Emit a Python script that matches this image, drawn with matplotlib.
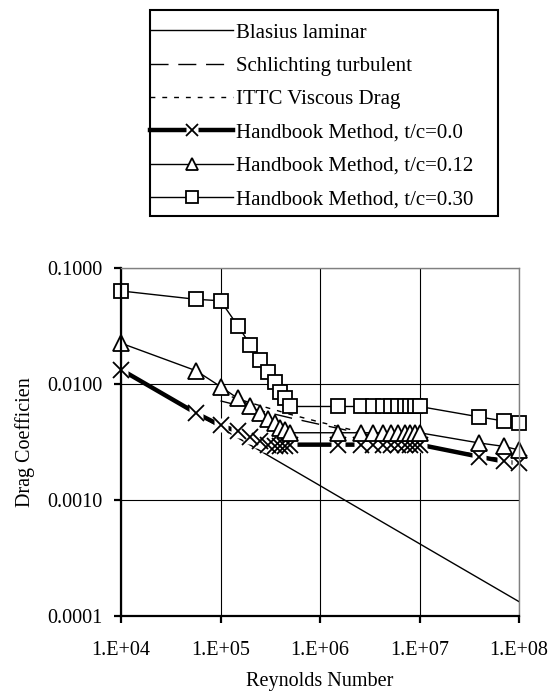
import matplotlib
matplotlib.use("Agg")
import matplotlib.pyplot as plt
from matplotlib.patches import Rectangle
from matplotlib.legend_handler import HandlerTuple
from matplotlib.ticker import NullLocator

plt.rcParams['font.family'] = ['Liberation Serif', 'DejaVu Serif']

# skin friction curves
re_blasius = [1e4, 2e4, 5e4, 1e5, 2e5, 5e5, 1e6, 2e6, 5e6, 1e7, 2e7, 5e7, 1e8]
cf_blasius = [0.01328, 0.00939, 0.00594, 0.00420, 0.00297, 0.00188, 0.00133,
              0.000939, 0.000594, 0.000420, 0.000297, 0.000188, 0.000133]

re_turb = [1e5, 2e5, 5e5, 1e6, 2e6, 5e6, 1e7, 2e7, 5e7, 1e8]
cf_schlichting = [0.00715, 0.00616, 0.00511, 0.00448, 0.00394, 0.00336,
                  0.00301, 0.00270, 0.00235, 0.00214]
cf_ittc = [0.00833, 0.00688, 0.00548, 0.00469, 0.00406, 0.00340,
           0.00300, 0.00262, 0.00231, 0.00208]

# handbook method, three thickness ratios
re_hb = [1e4, 5.7e4, 1e5, 1.5e5, 2e5, 2.5e5, 3e5, 3.5e5, 4e5, 4.5e5, 5e5,
         1.5e6, 2.6e6, 3.4e6, 4.3e6, 5.2e6, 6.1e6, 7.1e6, 8e6, 9e6, 1e7,
         4e7, 7e7, 1e8]
cf_tc00 = [0.0133, 0.0056, 0.0044, 0.0039, 0.0035, 0.0032, 0.0030, 0.0029,
           0.0029, 0.0029, 0.0030,
           0.0030, 0.0030, 0.0030, 0.0030, 0.0030, 0.0030, 0.0030, 0.0030,
           0.0030, 0.0030,
           0.00236, 0.00215, 0.00207]
cf_tc12 = [0.0225, 0.0130, 0.0095, 0.0075, 0.0065, 0.0056, 0.0050, 0.0046,
           0.0042, 0.0040, 0.0038,
           0.0038, 0.0038, 0.0038, 0.0038, 0.0038, 0.0038, 0.0038, 0.0038,
           0.0038, 0.0038,
           0.0031, 0.0029, 0.0027]
cf_tc30 = [0.0634, 0.0537, 0.0522, 0.0316, 0.0217, 0.0161, 0.0128, 0.0105,
           0.0086, 0.0076, 0.0064,
           0.0064, 0.0064, 0.0064, 0.0064, 0.0064, 0.0064, 0.0064, 0.0064,
           0.0064, 0.0064,
           0.0052, 0.0048, 0.0046]

x_ticks = [1e4, 1e5, 1e6, 1e7, 1e8]
x_labels = ['1.E+04', '1.E+05', '1.E+06', '1.E+07', '1.E+08']
y_ticks = [1e-4, 1e-3, 1e-2, 1e-1]
y_labels = ['0.0001', '0.0010', '0.0100', '0.1000']

labels = ['Blasius laminar', 'Schlichting turbulent', 'ITTC Viscous Drag',
          'Handbook Method, t/c=0.0', 'Handbook Method, t/c=0.12',
          'Handbook Method, t/c=0.30']

W, H = 559, 692
fig = plt.figure(figsize=(W / 100, H / 100), dpi=100)
ax = fig.add_axes([121 / W, 76 / H, 398 / W, 348 / H])

h1, = ax.plot(re_blasius, cf_blasius, '-', color='k', lw=1.0)
h2, = ax.plot(re_turb, cf_schlichting, color='k', lw=1.0, dashes=(13, 7))
h3, = ax.plot(re_turb, cf_ittc, color='k', lw=1.0, dashes=(3.5, 5))

# X markers sit on a white backing so the thick line breaks around them
h4a, = ax.plot(re_hb, cf_tc00, '-', color='k', lw=3.2, marker='s', ms=10,
               mfc='white', mec='none', clip_on=False)
h4b, = ax.plot(re_hb, cf_tc00, ls='none', marker='x', ms=11, mew=1.3,
               color='k', clip_on=False)
h5, = ax.plot(re_hb, cf_tc12, '-', color='k', lw=1.0, marker='^', ms=11.5,
              mfc='white', mec='k', mew=1.3, clip_on=False)
h6, = ax.plot(re_hb, cf_tc30, '-', color='k', lw=1.0, marker='s', ms=10.5,
              mfc='white', mec='k', mew=1.3, clip_on=False)

ax.set_xscale('log')
ax.set_yscale('log')
ax.set_xlim(1e4, 1e8)
ax.set_ylim(1e-4, 1e-1)
ax.set_xticks(x_ticks)
ax.set_xticklabels(x_labels)
ax.set_yticks(y_ticks)
ax.set_yticklabels(y_labels)
ax.xaxis.set_minor_locator(NullLocator())
ax.yaxis.set_minor_locator(NullLocator())

ax.grid(True, which='major', color='k', lw=0.8)
for side in ['left', 'bottom']:
    ax.spines[side].set_color('k')
    ax.spines[side].set_linewidth(1.6)
for side in ['top', 'right']:
    ax.spines[side].set_color('#808080')
    ax.spines[side].set_linewidth(1.0)

ax.tick_params(axis='both', direction='out', length=5, width=1.6,
               labelsize=14.5, colors='k')
ax.tick_params(axis='x', pad=13)
ax.tick_params(axis='y', pad=8)

ax.set_xlabel('Reynolds Number', fontsize=14.5)
ax.set_ylabel('Drag Coefficien', fontsize=14.5)
ax.xaxis.set_label_coords(0.5, -0.16)
ax.yaxis.set_label_coords(-0.215, 0.5)

handles = [h1, h2, h3, (h4a, h4b), h5, h6]
fig.legend(handles, labels, loc='upper left',
           bbox_to_anchor=(150 / W, 1 - 23 / H), frameon=False,
           borderpad=0, borderaxespad=0, handlelength=4.0,
           handletextpad=0.15, labelspacing=0.66, markerscale=0.8,
           fontsize=15, handler_map={tuple: HandlerTuple(ndivide=1)})
fig.patches.append(Rectangle((150 / W, 1 - 216 / H), 348 / W, 206 / H,
                             transform=fig.transFigure, fill=False,
                             ec='k', lw=1.5))

fig.savefig('out.png', dpi=100)
